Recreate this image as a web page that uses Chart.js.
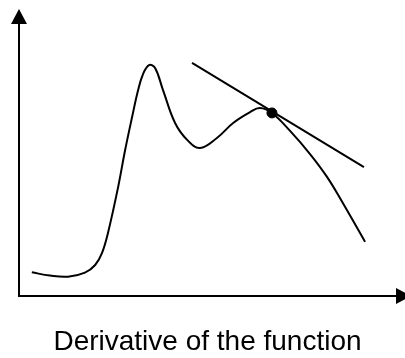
<!DOCTYPE html>
<html>
<head>
<meta charset="utf-8">
<script src="https://cdn.jsdelivr.net/npm/chart.js@4"></script>
<style>
  html, body { margin: 0; padding: 0; background: #fff; }
</style>
</head>
<body>
<canvas id="myChart" width="405" height="358"></canvas>
<script>
// curve of the function (axis units 0..10)
var curveX = [0.34, 0.82, 1.30, 1.75, 2.02, 2.20, 2.36, 2.63, 2.81, 3.00, 3.16, 3.29, 3.45, 3.61, 3.82, 4.14, 4.46, 4.80, 5.25, 5.68, 6.13, 6.39, 6.71, 7.19, 7.72, 8.17, 8.59, 9.18];
var curveY = [0.87, 0.75, 0.71, 0.86, 1.14, 1.58, 2.32, 4.01, 5.33, 6.58, 7.57, 8.16, 8.49, 8.38, 7.57, 6.36, 5.74, 5.44, 5.81, 6.36, 6.76, 6.91, 6.73, 6.07, 5.22, 4.38, 3.42, 1.99];
// tangent line at the marked point
var tangentX = [4.59, 9.15];
var tangentY = [8.57, 4.74];
var pointX = [6.71];
var pointY = [6.73];
var titleText = 'Derivative of the function';

function toXY(xs, ys) {
  return xs.map(function (x, i) { return { x: x, y: ys[i] }; });
}

var arrowAxes = {
  id: 'arrowAxes',
  afterDatasetsDraw: function (chart) {
    var ctx = chart.ctx;
    var a = chart.chartArea;
    ctx.save();
    ctx.strokeStyle = '#000';
    ctx.fillStyle = '#000';
    ctx.lineWidth = 2;
    ctx.beginPath();
    ctx.moveTo(a.left, a.top);
    ctx.lineTo(a.left, a.bottom);
    ctx.lineTo(a.right, a.bottom);
    ctx.stroke();
    // y arrow
    ctx.beginPath();
    ctx.moveTo(a.left, a.top - 15);
    ctx.lineTo(a.left - 8, a.top);
    ctx.lineTo(a.left + 8, a.top);
    ctx.closePath();
    ctx.fill();
    // x arrow
    ctx.beginPath();
    ctx.moveTo(a.right + 15, a.bottom);
    ctx.lineTo(a.right, a.bottom - 8);
    ctx.lineTo(a.right, a.bottom + 8);
    ctx.closePath();
    ctx.fill();
    ctx.restore();
  }
};

window.addEventListener('DOMContentLoaded', function () {
  var ctx = document.getElementById('myChart').getContext('2d');
  var chart = new Chart(ctx, {
    type: 'scatter',
    data: {
      datasets: [{
        label: 'function',
        data: toXY(curveX, curveY),
        showLine: true,
        borderColor: '#000',
        borderWidth: 2,
        pointRadius: 0,
        tension: 0.4
      }, {
        label: 'tangent',
        data: toXY(tangentX, tangentY),
        showLine: true,
        borderColor: '#000',
        borderWidth: 2,
        pointRadius: 0
      }, {
        label: 'point',
        data: toXY(pointX, pointY),
        pointRadius: 5,
        backgroundColor: '#000',
        borderColor: '#000'
      }]
    },
    options: {
      responsive: false,
      animation: false,
      layout: { padding: { left: 19, right: 9, top: 24, bottom: 0 } },
      scales: {
        x: { type: 'linear', min: 0, max: 10, display: false },
        y: { type: 'linear', min: 0, max: 10, display: false }
      },
      plugins: {
        legend: { display: false },
        tooltip: { enabled: false },
        title: {
          display: true,
          position: 'bottom',
          text: titleText,
          color: '#000',
          font: { family: "'Liberation Sans', Arial, sans-serif", size: 28, weight: 'normal', lineHeight: 1.0 },
          padding: { top: 32, bottom: 2 }
        }
      }
    },
    plugins: [arrowAxes]
  });
});
</script>
</body>
</html>
